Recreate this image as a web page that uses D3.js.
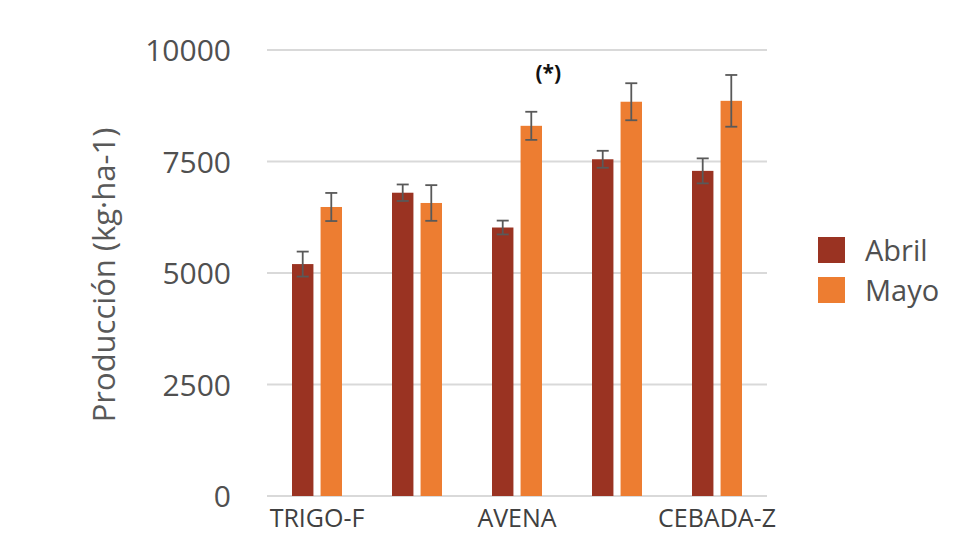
<!DOCTYPE html>
<html>
<head>
<meta charset="utf-8">
<script src="https://cdn.jsdelivr.net/npm/d3@7"></script>
<style>
  body { margin: 0; background: #fff; }
  text { font-family: "Open Sans", sans-serif; }
</style>
</head>
<body>
<svg id="myGraph" width="980" height="560"></svg>
<script>
// datos
var categories = ["TRIGO-F", "cat2", "AVENA", "cat4", "CEBADA-Z"];
var tickLabels = ["TRIGO-F", "", "AVENA", "", "CEBADA-Z"];
var seriesNames = ["Abril", "Mayo"];
var abril = [5200, 6800, 6020, 7550, 7290];
var mayo = [6480, 6570, 8300, 8840, 8860];
var abrilErr = [280, 185, 155, 190, 280];
var mayoErr = [315, 400, 315, 415, 580];
var yTicks = [0, 2500, 5000, 7500, 10000];
var colors = ["#9A3322", "#ED7D31"];

var svg = d3.select("#myGraph");
const LEFT = 267, RIGHT = 767, TOP = 50, BOTTOM = 496;

var yscale = d3.scaleLinear().domain([0, 10000]).range([BOTTOM, TOP]);
var x0 = d3.scaleBand().domain(categories).range([LEFT, RIGHT])
  .paddingInner(0.5).paddingOuter(0.25);
var x1 = d3.scaleBand().domain(seriesNames).range([0, x0.bandwidth()])
  .paddingInner(0.25);

// グリッド
svg.append("g")
  .selectAll("line")
  .data(yTicks)
  .enter()
  .append("line")
  .attr("x1", LEFT).attr("x2", RIGHT)
  .attr("y1", function(d){ return yscale(d); })
  .attr("y2", function(d){ return yscale(d); })
  .attr("stroke", "#d9d9d9")
  .attr("stroke-width", 2);

// Y axis
var axisY = svg.append("g")
  .attr("transform", "translate(" + (LEFT - 33) + ",0)")
  .call(d3.axisLeft(yscale).tickValues(yTicks).tickSize(0).tickFormat(d3.format("d")));
axisY.select(".domain").remove();
axisY.selectAll("text")
  .attr("font-size", 30)
  .attr("fill", "#505050")
  .attr("dx", 0)
  .attr("dy", "0.35em");

// X axis
var axisX = svg.append("g")
  .attr("transform", "translate(0," + BOTTOM + ")")
  .call(d3.axisBottom(x0).tickSize(0).tickFormat(function(d, i){ return tickLabels[i]; }));
axisX.select(".domain").remove();
axisX.selectAll("text")
  .attr("font-size", 25)
  .attr("fill", "#404040")
  .attr("y", 13)
  .attr("dy", "0.71em");

// 棒
var data = [];
categories.forEach(function(c, i){
  data.push({cat: c, s: "Abril", v: abril[i], e: abrilErr[i]});
  data.push({cat: c, s: "Mayo", v: mayo[i], e: mayoErr[i]});
});

svg.append("g")
  .selectAll("rect")
  .data(data)
  .enter()
  .append("rect")
  .attr("x", function(d){ return x0(d.cat) + x1(d.s); })
  .attr("y", function(d){ return yscale(d.v); })
  .attr("width", x1.bandwidth())
  .attr("height", function(d){ return BOTTOM - yscale(d.v); })
  .attr("fill", function(d){ return d.s == "Abril" ? colors[0] : colors[1]; });

// error bars
var eb = svg.append("g")
  .attr("stroke", "#595959")
  .attr("stroke-width", 1.8)
  .selectAll("g")
  .data(data)
  .enter()
  .append("g")
  .attr("transform", function(d){
    return "translate(" + (x0(d.cat) + x1(d.s) + x1.bandwidth() / 2) + ",0)";
  });
eb.append("line")
  .attr("x1", 0).attr("x2", 0)
  .attr("y1", function(d){ return yscale(d.v + d.e); })
  .attr("y2", function(d){ return yscale(d.v - d.e); });
eb.append("line")
  .attr("x1", -6).attr("x2", 6)
  .attr("y1", function(d){ return yscale(d.v + d.e); })
  .attr("y2", function(d){ return yscale(d.v + d.e); });
eb.append("line")
  .attr("x1", -6).attr("x2", 6)
  .attr("y1", function(d){ return yscale(d.v - d.e); })
  .attr("y2", function(d){ return yscale(d.v - d.e); });

// (*)
svg.append("text")
  .attr("x", x0("AVENA") + x1("Mayo") + x1.bandwidth() / 2 + 17)
  .attr("y", 80)
  .attr("text-anchor", "middle")
  .attr("font-size", 21)
  .attr("font-weight", "bold")
  .attr("fill", "#111")
  .text("(*)");

// Y label
svg.append("text")
  .attr("transform", "translate(115," + ((TOP + BOTTOM) / 2 + 2) + ") rotate(-90)")
  .attr("text-anchor", "middle")
  .attr("font-size", 31)
  .attr("fill", "#595959")
  .text("Producción (kg·ha-1)");

// 凡例
var legend = svg.append("g")
  .selectAll("g")
  .data(seriesNames)
  .enter()
  .append("g")
  .attr("transform", function(d, i){ return "translate(818," + (237 + i * 40) + ")"; });
legend.append("rect")
  .attr("width", 27).attr("height", 26)
  .attr("fill", function(d, i){ return colors[i]; });
legend.append("text")
  .attr("x", 47).attr("y", 24)
  .attr("font-size", 29)
  .attr("fill", "#505050")
  .text(function(d){ return d; });
</script>
</body>
</html>
